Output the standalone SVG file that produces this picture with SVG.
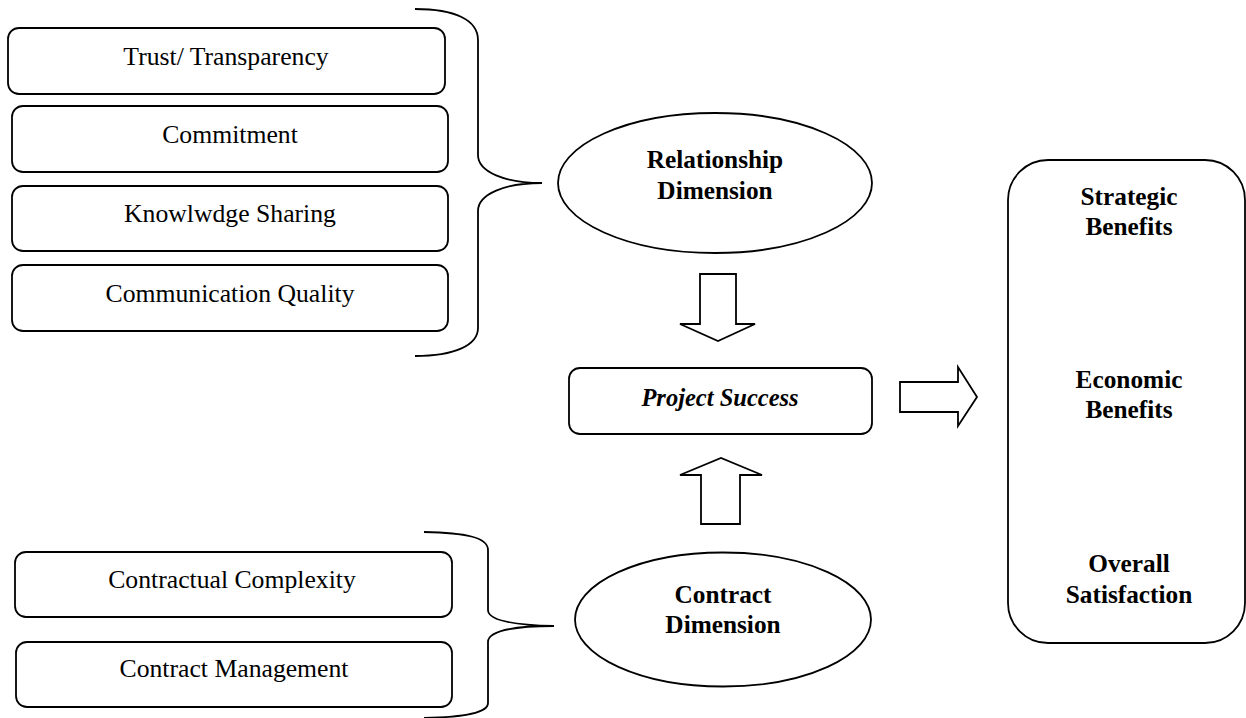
<svg xmlns="http://www.w3.org/2000/svg" width="1246" height="718" viewBox="0 0 1246 718">
<style>
.box{fill:#fff;stroke:#000;stroke-width:1.8}
.ln{fill:none;stroke:#000;stroke-width:1.8}
.arr{fill:#fff;stroke:#000;stroke-width:1.8;stroke-linejoin:miter}
text{font-family:"Liberation Serif","Times New Roman",serif;fill:#000;text-anchor:middle}
.t{font-size:25.7px}
.b{font-size:25.3px;font-weight:bold}
.bi{font-size:24.5px;font-weight:bold;font-style:italic}
</style>
<rect width="1246" height="718" fill="#fff"/>
<g id="trust"><rect class="box" x="8" y="28" width="437" height="66" rx="11"/><text class="t" x="226" y="65">Trust/ Transparency</text></g>
<g id="commitment"><rect class="box" x="12" y="106" width="436" height="66" rx="11"/><text class="t" x="230" y="143">Commitment</text></g>
<g id="knowledge"><rect class="box" x="12" y="186" width="436" height="65" rx="11"/><text class="t" x="230" y="222">Knowlwdge Sharing</text></g>
<g id="communication"><rect class="box" x="12" y="265" width="436" height="66" rx="11"/><text class="t" x="230" y="302">Communication Quality</text></g>
<g id="complexity"><rect class="box" x="15" y="552" width="437" height="65" rx="11"/><text class="t" x="232" y="588">Contractual Complexity</text></g>
<g id="management"><rect class="box" x="16" y="642" width="436" height="65" rx="11"/><text class="t" x="234" y="677">Contract Management</text></g>
<g id="relationship"><ellipse class="box" cx="715" cy="183" rx="157" ry="70"/><text class="b" x="715" y="168">Relationship</text><text class="b" x="715" y="199">Dimension</text></g>
<g id="contract"><ellipse class="box" cx="723" cy="619.5" rx="148" ry="67"/><text class="b" x="723" y="603">Contract</text><text class="b" x="723" y="633">Dimension</text></g>
<g id="success"><rect class="box" x="569" y="368" width="303" height="66" rx="11"/><text class="bi" x="720" y="406">Project Success</text></g>
<g id="outcomes"><rect class="box" x="1008" y="160" width="237" height="483" rx="40"/>
<text class="b" x="1129" y="205">Strategic</text><text class="b" x="1129" y="235">Benefits</text>
<text class="b" x="1129" y="388">Economic</text><text class="b" x="1129" y="418">Benefits</text>
<text class="b" x="1129" y="572">Overall</text><text class="b" x="1129" y="603">Satisfaction</text></g>
<g id="connectors">
<path class="ln" d="M415,9 C455,9 478,20 478,40 V155 C478,172 505,183 542,183 C505,183 478,194 478,211 V328 C478,345 455,356 415,356"/>
<path class="ln" d="M424,532 C465,533 488,537 488,550 V610 C488,620 510,625 554,626 C510,626 488,632 488,642 V703 C488,713 465,717 424,718"/>
<path class="arr" d="M700,274 H736 V324 H755 L718,341 L680,324 H700 Z"/>
<path class="arr" d="M701,524 V475 H680 L721,458 L762,475 H740 V524 Z"/>
<path class="arr" d="M900,382 H958 V367 L977,397 L958,426 V412 H900 Z"/>
</g>
</svg>
